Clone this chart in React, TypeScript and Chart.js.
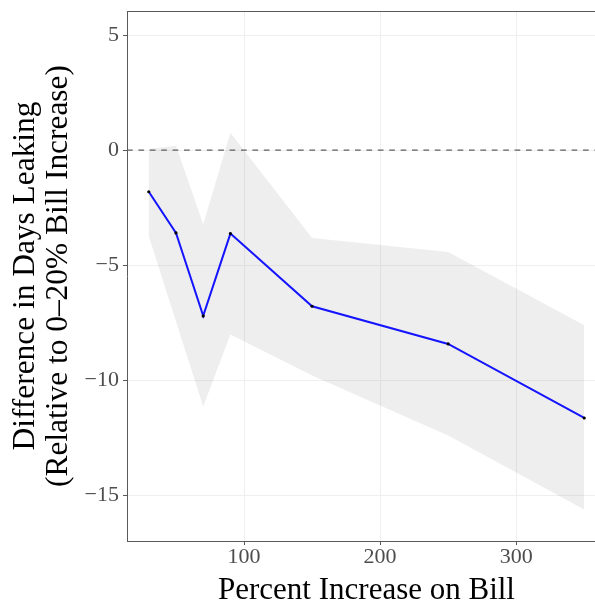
import React, { useEffect, useRef } from "react";
import { Chart, registerables } from "chart.js";

Chart.register(...registerables);

// Data
const percentIncrease = [30, 50, 70, 90, 150, 250, 350];
const estimate = [-1.81, -3.6, -7.21, -3.63, -6.79, -8.43, -11.65];
const upperBound = [0.05, 0.19, -3.22, 0.75, -3.82, -4.43, -7.62];
const lowerBound = [-3.74, -7.45, -11.15, -8.02, -9.8, -12.41, -15.63];

const xTicks = [100, 200, 300];
const yTicks = [-15, -10, -5, 0, 5];
const referenceY = 0;

const xTitle = "Percent Increase on Bill";
const yTitle = ["Difference in Days Leaking", "(Relative to 0\u201320% Bill Increase)"];

const FONT = "'Liberation Serif', 'Times New Roman', serif";

const fmt = (v: number) => (v < 0 ? "\u2212" + Math.abs(v) : String(v));

export default function App() {
  const ref = useRef<HTMLCanvasElement | null>(null);

  useEffect(() => {
    if (!ref.current) return;

    const framePlugin = {
      id: "frame",
      afterDatasetsDraw(chart: any) {
        const { ctx, chartArea, scales } = chart;
        ctx.save();
        // dashed reference line
        const y0 = scales.y.getPixelForValue(referenceY);
        ctx.strokeStyle = "#5f5f5f";
        ctx.lineWidth = 1.3;
        ctx.setLineDash([5.7, 5.7]);
        ctx.beginPath();
        ctx.moveTo(chartArea.left, y0);
        ctx.lineTo(chartArea.right, y0);
        ctx.stroke();
        ctx.setLineDash([]);
        // top border
        ctx.strokeStyle = "#5a5a5a";
        ctx.lineWidth = 1;
        ctx.beginPath();
        ctx.moveTo(chartArea.left, Math.round(chartArea.top) + 0.5);
        ctx.lineTo(chartArea.right, Math.round(chartArea.top) + 0.5);
        ctx.stroke();
        ctx.restore();
      },
    };

    const chart = new Chart(ref.current, {
      type: "line",
      data: {
        labels: percentIncrease,
        datasets: [
          {
            label: "estimate",
            data: percentIncrease.map((x, i) => ({ x, y: estimate[i] })),
            borderColor: "#1414ff",
            borderWidth: 2,
            pointRadius: 1.6,
            pointBackgroundColor: "#000000",
            pointBorderColor: "#000000",
            pointBorderWidth: 0,
            fill: false,
            tension: 0,
          },
          {
            label: "upper",
            data: percentIncrease.map((x, i) => ({ x, y: upperBound[i] })),
            borderWidth: 0,
            borderColor: "rgba(0,0,0,0)",
            pointRadius: 0,
            backgroundColor: "rgba(153,153,153,0.17)",
            fill: 2,
            tension: 0,
          },
          {
            label: "lower",
            data: percentIncrease.map((x, i) => ({ x, y: lowerBound[i] })),
            borderWidth: 0,
            borderColor: "rgba(0,0,0,0)",
            pointRadius: 0,
            fill: false,
            tension: 0,
          },
        ],
      },
      options: {
        responsive: false,
        animation: false,
        events: [],
        layout: { autoPadding: false, padding: { left: 0, right: 0, top: 11, bottom: 0 } },
        plugins: {
          legend: { display: false },
          tooltip: { enabled: false },
        },
        scales: {
          x: {
            type: "linear",
            min: 14,
            max: 366,
            afterBuildTicks: (scale: any) => {
              scale.ticks = xTicks.map((v) => ({ value: v }));
            },
            afterFit: (scale: any) => {
              scale.height = 60;
              scale.paddingLeft = 0;
              scale.paddingRight = 0;
            },
            grid: {
              color: "#EFEFEF",
              lineWidth: 1,
              drawTicks: true,
              tickLength: 4,
              tickColor: "#5a5a5a",
            },
            border: { display: true, color: "#5a5a5a", width: 1 },
            ticks: {
              color: "#4D4D4D",
              font: { family: FONT, size: 22, lineHeight: 1.1 },
              padding: 0.5,
              maxRotation: 0,
              callback: (v: any) => fmt(Number(v)),
            },
            title: {
              display: true,
              text: xTitle,
              color: "#000000",
              font: { family: FONT, size: 31, lineHeight: 0.6 },
              padding: { top: 0, bottom: 1 },
            },
          },
          y: {
            type: "linear",
            min: -17,
            max: 6.05,
            afterBuildTicks: (scale: any) => {
              scale.ticks = yTicks.map((v) => ({ value: v }));
            },
            afterFit: (scale: any) => {
              scale.width = 127;
              scale.paddingTop = 0;
              scale.paddingBottom = 0;
            },
            grid: {
              color: "#EFEFEF",
              lineWidth: 1,
              drawTicks: true,
              tickLength: 4,
              tickColor: "#5a5a5a",
            },
            border: { display: true, color: "#5a5a5a", width: 1 },
            ticks: {
              color: "#4D4D4D",
              font: { family: FONT, size: 22, lineHeight: 1.1 },
              padding: 4,
              callback: (v: any) => fmt(Number(v)),
            },
            title: {
              display: true,
              text: yTitle,
              color: "#000000",
              font: { family: FONT, size: 31.4, lineHeight: 1.06 },
              padding: { top: 9, bottom: 0 },
            },
          },
        },
      },
      plugins: [framePlugin],
    } as any);

    return () => chart.destroy();
  }, []);

  return (
    <div style={{ position: "absolute", left: 0, top: 0, width: 595, height: 601, overflow: "hidden" }}>
      <canvas ref={ref} width={606} height={601} style={{ display: "block" }} />
    </div>
  );
}
